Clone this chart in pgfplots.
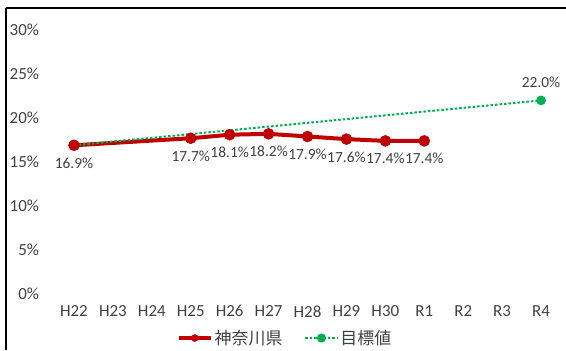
\documentclass[border=0pt]{standalone}
\usepackage{fontspec}
\setmainfont{Carlito}
\newfontfamily\jp{Noto Sans CJK JP}
\usepackage{pgfplots}
\pgfplotsset{compat=1.18}
\definecolor{kred}{HTML}{C00000}
\definecolor{kgreen}{HTML}{00B050}
\definecolor{lbl}{HTML}{404040}
\begin{document}
\begin{tikzpicture}[x=1bp,y=1bp]
\useasboundingbox (0,0) rectangle (566,350);
\draw[line width=1.5bp] (6,342) -- (566,342);
\draw[line width=1.5bp] (6,342) -- (6,0);
\begin{axis}[
  at={(54.5bp,56bp)}, anchor=south west,
  scale only axis, width=506bp, height=264bp,
  xmin=-0.5, xmax=12.5, ymin=0, ymax=30,
  axis line style={draw=none}, tick style={draw=none},
  xtick={0,...,12},
  xticklabels={H22,H23,H24,H25,H26,H27,H28,H29,H30,R1,R2,R3,R4},
  ytick={0,5,...,30},
  yticklabels={0\%,5\%,10\%,15\%,20\%,25\%,30\%},
  tick label style={font=\fontsize{17}{20}\selectfont, text=lbl},
  yticklabel style={xshift=-12bp},
  xticklabel style={yshift=-8bp},
  clip=false,
  legend columns=2,
  legend style={at={(0.4555,-0.1667)}, anchor=center, draw=none, fill=none,
    font=\jp\fontsize{17}{20}\selectfont, text=lbl,
    /tikz/every even column/.append style={column sep=20bp}},
  legend image code/.code={\draw[mark repeat=2,mark phase=2,#1,mark size=3.5bp] plot coordinates {(0bp,0bp) (16bp,0bp) (32bp,0bp)};},
  point meta=explicit symbolic,
  nodes near coords,
  nodes near coords style={font=\fontsize{15.5}{18}\selectfont, text=lbl},
]
\addplot[kred, line width=4bp, mark=*, mark size=5.5bp, mark options={fill=kred, draw=kred, line width=0.5bp},
  nodes near coords align={below}, every node near coord/.append style={yshift=-9bp}]
  coordinates {
  (0,16.9) [16.9\%]
  (3,17.7) [17.7\%]
  (4,18.1) [18.1\%]
  (5,18.2) [18.2\%]
  (6,17.9) [17.9\%]
  (7,17.6) [17.6\%]
  (8,17.4) [17.4\%]
  (9,17.4) [17.4\%]
  };
\addlegendentry{神奈川県}
\addplot[kgreen, line width=2bp, dash pattern=on 2.5bp off 2bp, mark=*, mark size=3.8bp,
  mark indices={2},
  mark options={solid, fill=kgreen, draw=kgreen},
  nodes near coords align={above}, every node near coord/.append style={yshift=8bp}]
  coordinates {
  (0,16.9) [{}]
  (12,22.0) [22.0\%]
  };
\addlegendentry{目標値}
\end{axis}
\end{tikzpicture}
\end{document}
